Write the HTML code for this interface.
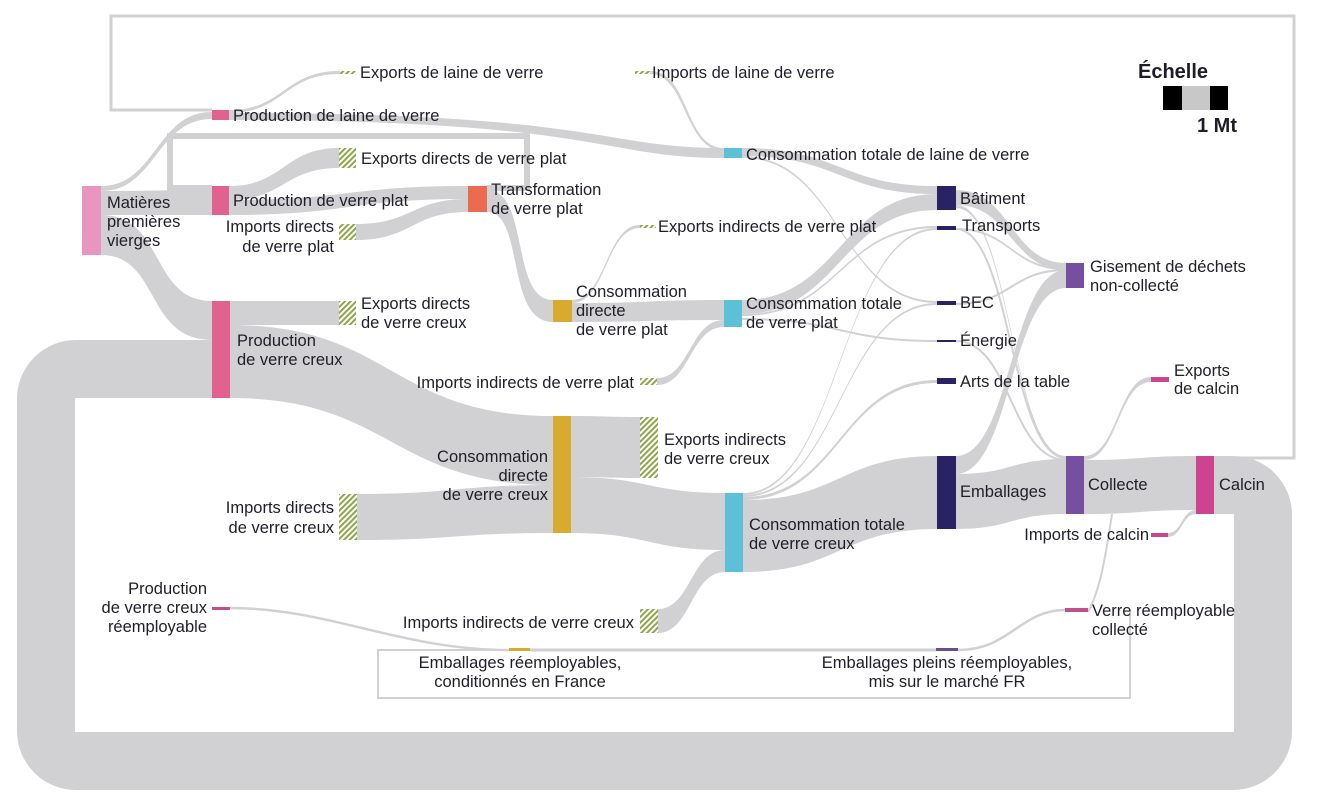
<!DOCTYPE html>
<html><head><meta charset="utf-8"><style>
html,body{margin:0;padding:0;background:#fff;}
svg{display:block;}
text{font-family:"Liberation Sans",sans-serif;font-size:16.5px;fill:#1e1e28;}
.e{text-anchor:end}.m{text-anchor:middle}
</style></head><body>
<svg width="1320" height="803" viewBox="0 0 1320 803" xmlns="http://www.w3.org/2000/svg">
<defs>
<pattern id="h" patternUnits="userSpaceOnUse" width="4" height="4" patternTransform="rotate(45)">
<rect width="4" height="4" fill="#fff"/><rect width="2" height="4" fill="#8ea54a"/></pattern>
</defs>
<g fill="#d1d1d3" stroke="none">
<path d="M101 186 C156 186 156 112 212 112 L212 119 C156 119 156 191 101 191Z"/>
<path d="M101 191 C156 191 156 190 212 190 L212 215 C156 215 156 215 101 215Z"/>
<path d="M101 215 C165 215 150 301 212 301 L212 340 C145 340 160 255 101 255Z"/>
<path d="M229 110 C284 110 284 71 340 71 L340 74 C284 74 284 113 229 113Z"/>
<path d="M229 113 C600 113 600 148 724 148 L724 158 C600 158 600 120 229 120Z"/>
<path d="M650 71 C690 71 684 148 724 148 L724 151 C684 151 687 74 650 74Z"/>
<path d="M229 186 C284 186 284 148 339 148 L339 168 C284 168 284 200 229 200Z"/>
<path d="M229 200 C348 200 348 186 468 186 L468 199 C348 199 348 215 229 215Z"/>
<path d="M356 224 C412 224 412 199 468 199 L468 212 C412 212 412 240 356 240Z"/>
<path d="M487 190 C530 190 510 300 553 300 L553 322 C505 322 525 212 487 212Z"/>
<path d="M572 300 C606 300 606 225 640 225 L640 228 C606 228 606 303 572 303Z"/>
<path d="M572 303 C648 303 648 300 724 300 L724 320 C648 320 648 322 572 322Z"/>
<path d="M657 378 C690 378 690 320 724 320 L724 327 C690 327 690 385 657 385Z"/>
<path d="M230 301 L339 301 L339 325 L230 325Z"/>
<path d="M230 325 C391 325 391 416 553 416 L553 485 C391 485 391 398 230 398Z"/>
<path d="M357 494 C455 494 455 485 553 485 L553 533 C455 533 455 540 357 540Z"/>
<path d="M571 416 C605 416 605 417 640 417 L640 478 C605 478 605 477 571 477Z"/>
<path d="M571 477 C648 477 648 493 725 493 L725 550 C648 550 648 533 571 533Z"/>
<path d="M658 609 C691 609 691 550 725 550 L725 572 C691 572 691 633 658 633Z"/>
<path d="M743 500 C840 500 840 456 937 456 L937 529 C840 529 840 572 743 572Z"/>
<path d="M743 497 C840 497 840 380 937 380 L937 383 C840 383 840 500 743 500Z"/>
<path d="M743 495 C840 495 840 303 937 303 L937 305 C840 305 840 497 743 497Z"/>
<path d="M743 493 C840 493 840 228 937 228 L937 230 C840 230 840 495 743 495Z"/>
<path d="M742 148 C840 148 840 186 937 186 L937 194 C840 194 840 156 742 156Z"/>
<path d="M742 156 C840 156 840 301 937 301 L937 303 C840 303 840 158 742 158Z"/>
<path d="M742 300 C840 300 840 194 937 194 L937 210 C840 210 840 314 742 314Z"/>
<path d="M742 314 C840 314 840 226 937 226 L937 228 C840 228 840 316 742 316Z"/>
<path d="M742 318 C840 318 840 340 937 340 L937 342 C840 342 840 320 742 320Z"/>
<path d="M956 190 C1011 190 1011 263 1066 263 L1066 270 C1011 270 1011 205 956 205Z"/>
<path d="M956 205 C1011 205 1011 456 1066 456 L1066 459 C1011 459 1011 208 956 208Z"/>
<path d="M956 228 C1011 228 1011 268 1066 268 L1066 270 C1011 270 1011 230 956 230Z"/>
<path d="M956 456 C1011 456 1011 270 1066 270 L1066 288 C1011 288 1011 474 956 474Z"/>
<path d="M956 474 C1011 474 1011 459 1066 459 L1066 514 C1011 514 1011 529 956 529Z"/>
<path d="M1084 456 C1118 456 1118 377 1151 377 L1151 382 C1118 382 1118 460 1084 460Z"/>
<path d="M1084 460 C1140 460 1140 456 1196 456 L1196 510 C1140 510 1140 514 1084 514Z"/>
<path d="M1168 533 C1182 533 1182 510 1196 510 L1196 514 C1182 514 1182 537 1168 537Z"/>
</g>
<g fill="none" stroke="#d1d1d3">
<path stroke-width="58" d="M1214 485 L1233 485 A30 30 0 0 1 1263 515 L1263 731 A30 30 0 0 1 1233 761 L76 761 A30 30 0 0 1 46 731 L46 399 A30 30 0 0 1 76 369 L212 369"/>
<path stroke-width="3" d="M1214 458 L1294 458 L1294 16 L111 16 L111 110 L212 110"/>
<path stroke-width="6" d="M487 188 L527 188 L527 136 L170 136 L170 188 L212 188"/>
<path stroke-width="2.5" d="M230 608 C330 608 400 650 509 650"/>
<path stroke-width="3" d="M530 650 L936 650"/>
<path stroke-width="2.5" d="M958 650 C1010 650 1020 610 1065 610"/>
<path stroke-width="2" d="M1130 612 L1130 698 L378 698 L378 650 L509 650"/>
<path stroke-width="2" d="M1112 514 C1105 560 1100 590 1088 612"/>
<path stroke-width="2" d="M956 229 C1011 229 1011 458 1066 458"/>
<path stroke-width="2" d="M956 341 C1011 341 1011 460 1066 460"/>
<path stroke-width="2" d="M956 304 C1011 304 1011 270 1066 270"/>
</g>
<g>
<rect x="82" y="186" width="19" height="69" fill="#e896c0"/>
<rect x="212" y="110" width="17" height="10" fill="#e2628f"/>
<rect x="212" y="186" width="17" height="29" fill="#e2628f"/>
<rect x="212" y="301" width="18" height="97" fill="#e2628f"/>
<rect x="468" y="186" width="19" height="26" fill="#ec6b50"/>
<rect x="553" y="300" width="19" height="22" fill="#d8ab30"/>
<rect x="553" y="416" width="18" height="117" fill="#d8ab30"/>
<rect x="724" y="148" width="18" height="10" fill="#5cc0d7"/>
<rect x="724" y="300" width="18" height="27" fill="#5cc0d7"/>
<rect x="725" y="493" width="18" height="79" fill="#5cc0d7"/>
<rect x="937" y="186" width="19" height="24" fill="#2a2363"/>
<rect x="937" y="226" width="19" height="4" fill="#2a2363"/>
<rect x="937" y="301" width="19" height="4" fill="#2a2363"/>
<rect x="937" y="340" width="19" height="2" fill="#2a2363"/>
<rect x="937" y="378" width="19" height="6" fill="#2a2363"/>
<rect x="937" y="456" width="19" height="73" fill="#2a2363"/>
<rect x="1066" y="263" width="18" height="25" fill="#7650a0"/>
<rect x="1066" y="456" width="18" height="58" fill="#7650a0"/>
<rect x="1196" y="456" width="18" height="58" fill="#cc4490"/>
<rect x="1151" y="377" width="18" height="5" fill="#cc4490"/>
<rect x="1151" y="533" width="17" height="4" fill="#cc4490"/>
<rect x="1065" y="608" width="23" height="4" fill="#c04f8c"/>
<rect x="212" y="607" width="18" height="3" fill="#c04f8c"/>
<rect x="509" y="648" width="21" height="3" fill="#d8ab30"/>
<rect x="936" y="648" width="22" height="3" fill="#6a4d8f"/>
<rect x="340" y="71" width="16" height="3" fill="url(#h)"/>
<rect x="635" y="71" width="15" height="3" fill="url(#h)"/>
<rect x="339" y="148" width="17" height="20" fill="url(#h)"/>
<rect x="339" y="224" width="17" height="16" fill="url(#h)"/>
<rect x="339" y="301" width="17" height="24" fill="url(#h)"/>
<rect x="640" y="225" width="16" height="3" fill="url(#h)"/>
<rect x="640" y="378" width="17" height="7" fill="url(#h)"/>
<rect x="640" y="417" width="18" height="61" fill="url(#h)"/>
<rect x="339" y="494" width="18" height="46" fill="url(#h)"/>
<rect x="640" y="609" width="18" height="24" fill="url(#h)"/>
<rect x="1163" y="86" width="19" height="24" fill="#000"/>
<rect x="1182" y="86" width="28" height="24" fill="#c8c8c8"/>
<rect x="1210" y="86" width="18" height="24" fill="#000"/>
</g>
<g>
<text x="1138" y="78" style="font-size:20px;font-weight:bold">Échelle</text>
<text x="1197" y="132" style="font-size:20px;font-weight:bold">1 Mt</text>
<text x="360" y="78">Exports de laine de verre</text>
<text x="652" y="78">Imports de laine de verre</text>
<text x="233" y="121">Production de laine de verre</text>
<text x="746" y="160">Consommation totale de laine de verre</text>
<text x="361" y="164">Exports directs de verre plat</text>
<text x="107" y="208">Matières</text><text x="107" y="227">premières</text><text x="107" y="246">vierges</text>
<text x="233" y="206">Production de verre plat</text>
<text x="491" y="195">Transformation</text><text x="491" y="214">de verre plat</text>
<text class="e" x="334" y="232">Imports directs</text><text class="e" x="334" y="252">de verre plat</text>
<text x="658" y="232">Exports indirects de verre plat</text>
<text x="960" y="204">Bâtiment</text>
<text x="962" y="231">Transports</text>
<text x="960" y="308">BEC</text>
<text x="960" y="346">Énergie</text>
<text x="960" y="387">Arts de la table</text>
<text x="1090" y="272">Gisement de déchets</text><text x="1090" y="291">non-collecté</text>
<text x="576" y="297">Consommation</text><text x="576" y="316">directe</text><text x="576" y="335">de verre plat</text>
<text x="746" y="309">Consommation totale</text><text x="746" y="328">de verre plat</text>
<text x="361" y="309">Exports directs</text><text x="361" y="328">de verre creux</text>
<text x="237" y="346">Production</text><text x="237" y="365">de verre creux</text>
<text class="e" x="634" y="388">Imports indirects de verre plat</text>
<text x="1174" y="376">Exports</text><text x="1174" y="394">de calcin</text>
<text class="e" x="548" y="462">Consommation</text><text class="e" x="548" y="481">directe</text><text class="e" x="548" y="500">de verre creux</text>
<text x="664" y="445">Exports indirects</text><text x="664" y="464">de verre creux</text>
<text x="960" y="497">Emballages</text>
<text x="1088" y="490">Collecte</text>
<text x="1219" y="490">Calcin</text>
<text class="e" x="334" y="513">Imports directs</text><text class="e" x="334" y="533">de verre creux</text>
<text x="749" y="530">Consommation totale</text><text x="749" y="549">de verre creux</text>
<text class="e" x="1149" y="540">Imports de calcin</text>
<text class="e" x="207" y="594">Production</text><text class="e" x="207" y="613">de verre creux</text><text class="e" x="207" y="632">réemployable</text>
<text class="e" x="634" y="628">Imports indirects de verre creux</text>
<text x="1092" y="616">Verre réemployable</text><text x="1092" y="635">collecté</text>
<text class="m" x="520" y="668">Emballages réemployables,</text><text class="m" x="520" y="687">conditionnés en France</text>
<text class="m" x="947" y="668">Emballages pleins réemployables,</text><text class="m" x="947" y="687">mis sur le marché FR</text>
</g>
</svg>
</body></html>
